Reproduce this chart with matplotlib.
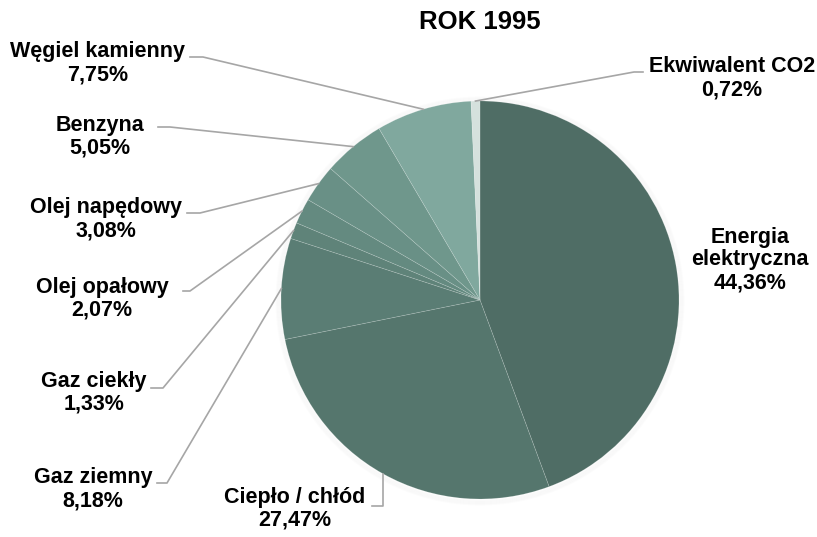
import numpy as np
import matplotlib.pyplot as plt

plt.rcParams['font.family'] = ['Liberation Sans', 'DejaVu Sans']

# dane: udział w emisji, rok 1995
labels = ['Energia\nelektryczna', 'Ciepło / chłód', 'Gaz ziemny', 'Gaz ciekły',
          'Olej opałowy', 'Olej napędowy', 'Benzyna', 'Węgiel kamienny', 'Ekwiwalent CO2']
values = [44.36, 27.47, 8.18, 1.33, 2.07, 3.08, 5.05, 7.75, 0.72]
pct_text = ['44,36%', '27,47%', '8,18%', '1,33%', '2,07%', '3,08%', '5,05%', '7,75%', '0,72%']
colors = ['#4f6d65', '#55766d', '#5a7d74', '#5f8379', '#648a80',
          '#699086', '#6f978c', '#80a89e', '#d5e1dd']

W, H = 817, 537
fig = plt.figure(figsize=(W / 100, H / 100), dpi=100)
ax = fig.add_axes([0, 0, 1, 1])

cx, cy, r = 480, 300, 199

# miękki cień pod kołem
for k in range(5):
    ax.add_patch(plt.Circle((cx, cy + 1), r + 0.5 + k, color='black',
                            alpha=0.012, fill=False, lw=1.5, zorder=0))

wedges, _ = ax.pie(values, colors=colors, center=(cx, cy), radius=r, frame=True,
                   wedgeprops=dict(edgecolor=(1, 1, 1, 0.2), linewidth=0.5))
ax.set_xlim(0, W)
ax.set_ylim(H, 0)
ax.set_aspect('equal')
ax.axis('off')

# start u góry, zgodnie z ruchem wskazówek zegara (oś y odwrócona)
ang0 = 90
cum = np.cumsum([0] + values) / sum(values) * 360
for w, a, b in zip(wedges, cum[:-1], cum[1:]):
    w.set_theta1(-(ang0 - a))
    w.set_theta2(-(ang0 - b))


def screen_pt(deg):
    t = np.deg2rad(ang0 - deg)
    return cx + r * np.cos(t), cy - r * np.sin(t)


fs = 15.5
txt = dict(ha='center', va='center', fontsize=fs, fontweight='bold', color='black')
lc = '#a6a6a6'

ax.text(480, 22, 'ROK 1995', ha='center', va='center', fontsize=18.5,
        fontweight='bold')

# pozycje etykiet: (x, y pierwszej linii, koniec linii przy tekście, załamanie)
layout = {
    0: (750, 237, None, None),
    1: (295, 497, (372, 506), None),
    2: (93, 478, (157, 483), (167, 483)),
    3: (94, 381, (151, 388), (163, 388)),
    4: (102, 287, (183, 291), (190, 291)),
    5: (106, 208, (187, 213), (200, 213)),
    6: (100, 125, (158, 127), (170, 127)),
    7: (98, 52, (190, 57), (203, 57)),
    8: (732, 67, (643, 72), (634, 72)),
}

for i, (lab, p) in enumerate(zip(labels, pct_text)):
    x, y, a1, a2 = layout[i]
    lines = lab.split('\n') + [p]
    for j, s in enumerate(lines):
        ax.text(x, y + 23 * j, s, **txt)
    if a1 is None:
        continue
    px, py = screen_pt((cum[i] + cum[i + 1]) / 2)
    if i == 1:
        ax.plot([px, px, a1[0]], [py, a1[1], a1[1]], color=lc, lw=1.2, zorder=1)
    else:
        ax.plot([a1[0], a2[0], px], [a1[1], a2[1], py], color=lc, lw=1.2, zorder=1)

fig.savefig('out.png', dpi=100)
